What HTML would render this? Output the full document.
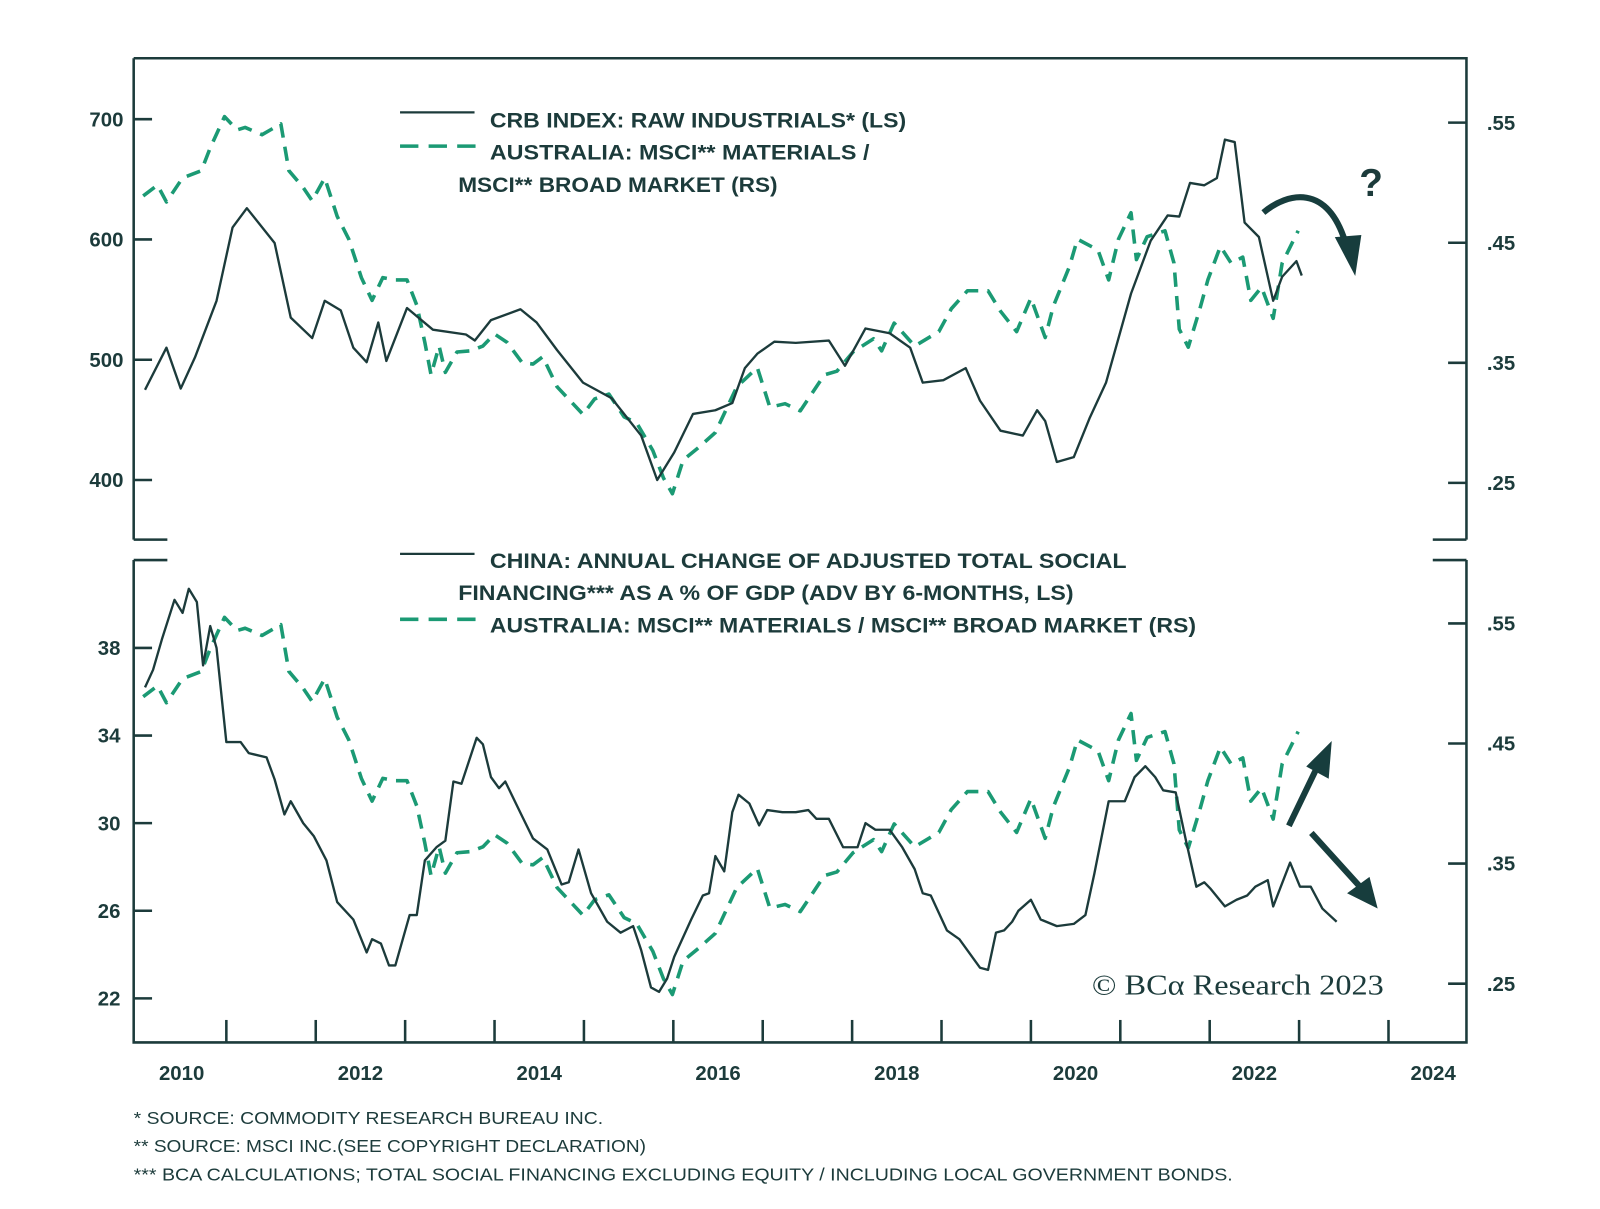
<!DOCTYPE html>
<html><head><meta charset="utf-8"><style>
html,body{margin:0;padding:0;background:#fff;}
svg{display:block;}
text{font-family:"Liberation Sans",sans-serif;fill:#1c3b3b;}
</style></head>
<body>
<svg id="chart" width="1600" height="1209" viewBox="0 0 1600 1209" xmlns="http://www.w3.org/2000/svg">
<g transform="scale(1.0205,1.022)">
<g id="frame" stroke="#1c3b3b" stroke-width="2.5" fill="none">
  <path d="M131,57 H1437 V528 M131,57 V528 M131,528 H164 M1404,528 H1437"/>
  <path d="M131,548 V1020 H1437 V548 M131,548 H164 M1404,548 H1437"/>
</g>
<g id="ticks" stroke="#1c3b3b" stroke-width="2.5"></g>
<g id="labels" font-weight="bold" font-size="20"></g>
<g id="series" fill="none" stroke-linejoin="round"></g>

<g font-weight="bold" font-size="21">
  <line x1="392" y1="110" x2="465" y2="110" stroke="#1c3b3b" stroke-width="2.2"/>
  <text x="480" y="125" textLength="408" lengthAdjust="spacingAndGlyphs">CRB INDEX: RAW INDUSTRIALS* (LS)</text>
  <line x1="392" y1="143" x2="468" y2="143" stroke="#1b9a74" stroke-width="3.5" stroke-dasharray="18,10"/>
  <text x="480" y="156" textLength="372" lengthAdjust="spacingAndGlyphs">AUSTRALIA: MSCI** MATERIALS /</text>
  <text x="449" y="188" textLength="313" lengthAdjust="spacingAndGlyphs">MSCI** BROAD MARKET (RS)</text>
</g>
<g font-weight="bold" font-size="21">
  <line x1="392" y1="542" x2="465" y2="542" stroke="#1c3b3b" stroke-width="2.2"/>
  <text x="480" y="556" textLength="624" lengthAdjust="spacingAndGlyphs">CHINA: ANNUAL CHANGE OF ADJUSTED TOTAL SOCIAL</text>
  <text x="449" y="587" textLength="603" lengthAdjust="spacingAndGlyphs">FINANCING*** AS A % OF GDP (ADV BY 6-MONTHS, LS)</text>
  <line x1="392" y1="606" x2="468" y2="606" stroke="#1b9a74" stroke-width="3.5" stroke-dasharray="18,10"/>
  <text x="480" y="619" textLength="692" lengthAdjust="spacingAndGlyphs">AUSTRALIA: MSCI** MATERIALS / MSCI** BROAD MARKET (RS)</text>
</g>

<g fill="#173d3d" stroke="#173d3d">
  <path d="M1238,208 C1262,188 1300,180 1318,236" fill="none" stroke-width="6"/>
  <polygon points="1308,232 1334,230 1328,270" stroke="none"/>
  <text x="1332" y="192" font-size="38" font-weight="bold" stroke="none" fill="#173d3d">?</text>
  <line x1="1263" y1="808" x2="1292" y2="748" stroke-width="6"/>
  <polygon points="1280,750 1305,725 1302,762" stroke="none"/>
  <line x1="1285" y1="815" x2="1333" y2="868" stroke-width="6"/>
  <polygon points="1320,874 1342,858 1350,889" stroke="none"/>
</g>

<text x="1070" y="973" font-size="28" textLength="286" lengthAdjust="spacingAndGlyphs" style="font-family:'Liberation Serif',serif">© BCα Research 2023</text>

<g font-size="17.5">
  <text x="131" y="1100" textLength="460" lengthAdjust="spacingAndGlyphs">*   SOURCE: COMMODITY RESEARCH BUREAU INC.</text>
  <text x="131" y="1127" textLength="502" lengthAdjust="spacingAndGlyphs">**  SOURCE: MSCI INC.(SEE COPYRIGHT DECLARATION)</text>
  <text x="131" y="1155" textLength="1077" lengthAdjust="spacingAndGlyphs">*** BCA CALCULATIONS; TOTAL SOCIAL FINANCING EXCLUDING EQUITY / INCLUDING LOCAL GOVERNMENT BONDS.</text>
</g>
</g>
</svg>
<script>
// ---- data ----
const crbDates = [2009.59,2009.83,2009.99,2010.15,2010.39,2010.57,2010.73,2011.04,2011.22,2011.46,2011.60,2011.78,2011.92,2012.07,2012.20,2012.29,2012.52,2012.81,2013.18,2013.28,2013.46,2013.79,2013.97,2014.20,2014.49,2014.81,2015.14,2015.32,2015.51,2015.72,2015.97,2016.16,2016.30,2016.44,2016.63,2016.87,2017.24,2017.42,2017.65,2017.92,2018.15,2018.29,2018.52,2018.77,2018.93,2019.16,2019.41,2019.57,2019.66,2019.79,2019.98,2020.16,2020.34,2020.62,2020.84,2021.03,2021.16,2021.28,2021.44,2021.58,2021.67,2021.78,2021.89,2022.05,2022.21,2022.31,2022.47,2022.53];
const crbValues = [475,510,476,502,549,610,626,597,535,518,549,541,510,498,531,499,543,525,521,516,533,542,531,508,481,468,437,400,423,455,458,464,493,505,515,514,516,495,526,522,510,481,483,493,466,441,437,458,449,415,419,452,481,555,599,620,619,647,645,651,683,681,614,602,549,569,582,570];
const ausDates = [2009.57,2009.73,2009.83,2010.01,2010.22,2010.32,2010.48,2010.62,2010.71,2010.90,2011.11,2011.20,2011.36,2011.46,2011.60,2011.74,2011.87,2012.01,2012.13,2012.25,2012.39,2012.52,2012.63,2012.72,2012.79,2012.88,2012.95,2013.08,2013.23,2013.37,2013.50,2013.64,2013.81,2013.93,2014.04,2014.20,2014.49,2014.62,2014.78,2014.95,2015.09,2015.27,2015.39,2015.49,2015.61,2015.79,2015.97,2016.21,2016.44,2016.58,2016.75,2016.92,2017.19,2017.33,2017.51,2017.74,2017.83,2017.97,2018.20,2018.47,2018.61,2018.79,2019.02,2019.16,2019.34,2019.50,2019.66,2019.75,2019.93,2020.02,2020.25,2020.37,2020.48,2020.62,2020.68,2020.80,2021.00,2021.10,2021.16,2021.26,2021.39,2021.48,2021.62,2021.74,2021.87,2021.96,2022.08,2022.21,2022.31,2022.49];
const ausValues = [.489,.498,.484,.504,.510,.529,.555,.544,.546,.540,.549,.510,.496,.485,.504,.472,.453,.421,.402,.421,.419,.419,.398,.367,.340,.364,.342,.359,.360,.364,.374,.367,.350,.349,.355,.330,.307,.320,.324,.305,.300,.277,.254,.241,.269,.280,.292,.330,.346,.313,.316,.310,.340,.343,.359,.370,.360,.383,.364,.376,.395,.410,.410,.393,.376,.404,.371,.397,.430,.453,.444,.419,.453,.475,.436,.455,.460,.433,.378,.363,.395,.419,.447,.433,.438,.402,.413,.387,.433,.460];
const tsfDates = [2009.59,2009.68,2009.78,2009.92,2010.01,2010.08,2010.17,2010.24,2010.32,2010.39,2010.50,2010.66,2010.75,2010.95,2011.04,2011.15,2011.22,2011.36,2011.48,2011.62,2011.74,2011.92,2012.07,2012.13,2012.23,2012.32,2012.39,2012.55,2012.63,2012.72,2012.85,2012.95,2013.04,2013.13,2013.30,2013.37,2013.46,2013.55,2013.62,2013.81,2013.93,2014.09,2014.25,2014.33,2014.44,2014.58,2014.76,2014.91,2015.05,2015.14,2015.25,2015.34,2015.43,2015.51,2015.70,2015.83,2015.90,2015.97,2016.07,2016.16,2016.23,2016.35,2016.46,2016.55,2016.72,2016.87,2017.01,2017.10,2017.24,2017.40,2017.56,2017.65,2017.76,2017.92,2018.06,2018.20,2018.29,2018.38,2018.56,2018.70,2018.93,2019.02,2019.11,2019.20,2019.29,2019.36,2019.50,2019.61,2019.79,2019.98,2020.11,2020.21,2020.37,2020.55,2020.66,2020.78,2020.89,2020.98,2021.12,2021.23,2021.35,2021.44,2021.51,2021.67,2021.80,2021.92,2022.01,2022.15,2022.21,2022.40,2022.51,2022.63,2022.76,2022.92];
const tsfValues = [36.2,37.0,38.4,40.2,39.6,40.7,40.1,37.2,39.0,38.0,33.7,33.7,33.2,33.0,32.0,30.4,31.0,30.0,29.4,28.3,26.4,25.6,24.1,24.7,24.5,23.5,23.5,25.8,25.8,28.3,28.9,29.2,31.9,31.8,33.9,33.6,32.1,31.6,31.9,30.3,29.3,28.8,27.2,27.3,28.8,26.8,25.5,25.0,25.3,24.2,22.5,22.3,22.9,23.9,25.6,26.7,26.8,28.5,27.8,30.5,31.3,30.9,29.9,30.6,30.5,30.5,30.6,30.2,30.2,28.9,28.9,30.0,29.7,29.7,28.9,27.9,26.8,26.7,25.1,24.7,23.4,23.3,25.0,25.1,25.5,26.0,26.5,25.6,25.3,25.4,25.8,27.7,31.0,31.0,32.1,32.6,32.1,31.5,31.4,29.3,27.1,27.3,27.0,26.2,26.5,26.7,27.1,27.4,26.2,28.2,27.1,27.1,26.1,25.5];
const topLeftTicks = [400,500,600,700];
const topRightTicks = [.25,.35,.45,.55];
const botLeftTicks = [22,26,30,34,38];
const botRightTicks = [.25,.35,.45,.55];
const xLabels = [2010,2012,2014,2016,2018,2020,2022,2024];
const xTicks = [2010.5,2011.5,2012.5,2013.5,2014.5,2015.5,2016.5,2017.5,2018.5,2019.5,2020.5,2021.5,2022.5,2023.5];

// ---- scales ----
const X = t => 178 + (t - 2010) * 87.6;
const yTopL = v => 352 - (v - 500) * 1.177;
const yTopR = v => 120 + (0.55 - v) * 1175;
const yBotL = v => 634 + (38 - v) * 21.43;
const yBotR = v => 610 + (0.55 - v) * 1175;

const NS = 'http://www.w3.org/2000/svg';
const tickG = document.getElementById('ticks');
const labG = document.getElementById('labels');
const serG = document.getElementById('series');
function mk(tag, attrs, parent){const e=document.createElementNS(NS,tag);for(const k in attrs)e.setAttribute(k,attrs[k]);parent.appendChild(e);return e;}

function fmtR(v){return v.toFixed(2).replace(/^0/,'');}
topLeftTicks.forEach(v=>{const y=yTopL(v);
  const l=mk('line',{x1:131,x2:149,y1:y,y2:y},tickG);
  
  
  const t=mk('text',{x:121,y:y+7,'text-anchor':'end'},labG);t.textContent=v;
  
  
});
topRightTicks.forEach(v=>{const y=yTopR(v);
  const l=mk('line',{x1:1419,x2:1437,y1:y,y2:y},tickG);
  
  
  const t=mk('text',{x:1457,y:y+7},labG);t.textContent=fmtR(v);
  
  
});
botLeftTicks.forEach(v=>{const y=yBotL(v);
  const l=mk('line',{x1:131,x2:149,y1:y,y2:y},tickG);
  
  
  const t=mk('text',{x:118,y:y+7,'text-anchor':'end'},labG);t.textContent=v;
  
  
});
botRightTicks.forEach(v=>{const y=yBotR(v);
  const l=mk('line',{x1:1419,x2:1437,y1:y,y2:y},tickG);
  
  
  const t=mk('text',{x:1457,y:y+7},labG);t.textContent=fmtR(v);
  
  
});
xTicks.forEach(t=>{const x=X(t);
  const l=mk('line',{x1:x,x2:x,y1:998,y2:1020},tickG);
  
  
});
xLabels.forEach(yr=>{
  const t=mk('text',{x:X(yr),y:1057,'text-anchor':'middle'},labG);t.textContent=yr;
  
  
});

function path(dates, vals, ys){return dates.map((t,i)=>(i?'L':'M')+X(t).toFixed(1)+','+ys(vals[i]).toFixed(1)).join(' ');}
const p1=mk('path',{d:path(ausDates,ausValues,yTopR),stroke:'#1b9a74','stroke-width':3.5,'stroke-dasharray':'14,9'},serG);


const p2=mk('path',{d:path(crbDates,crbValues,yTopL),stroke:'#1c3b3b','stroke-width':2.3},serG);


const p3=mk('path',{d:path(ausDates,ausValues,yBotR),stroke:'#1b9a74','stroke-width':3.5,'stroke-dasharray':'14,9'},serG);


const p4=mk('path',{d:path(tsfDates,tsfValues,yBotL),stroke:'#1c3b3b','stroke-width':2.3},serG);


</script>
</body></html>
